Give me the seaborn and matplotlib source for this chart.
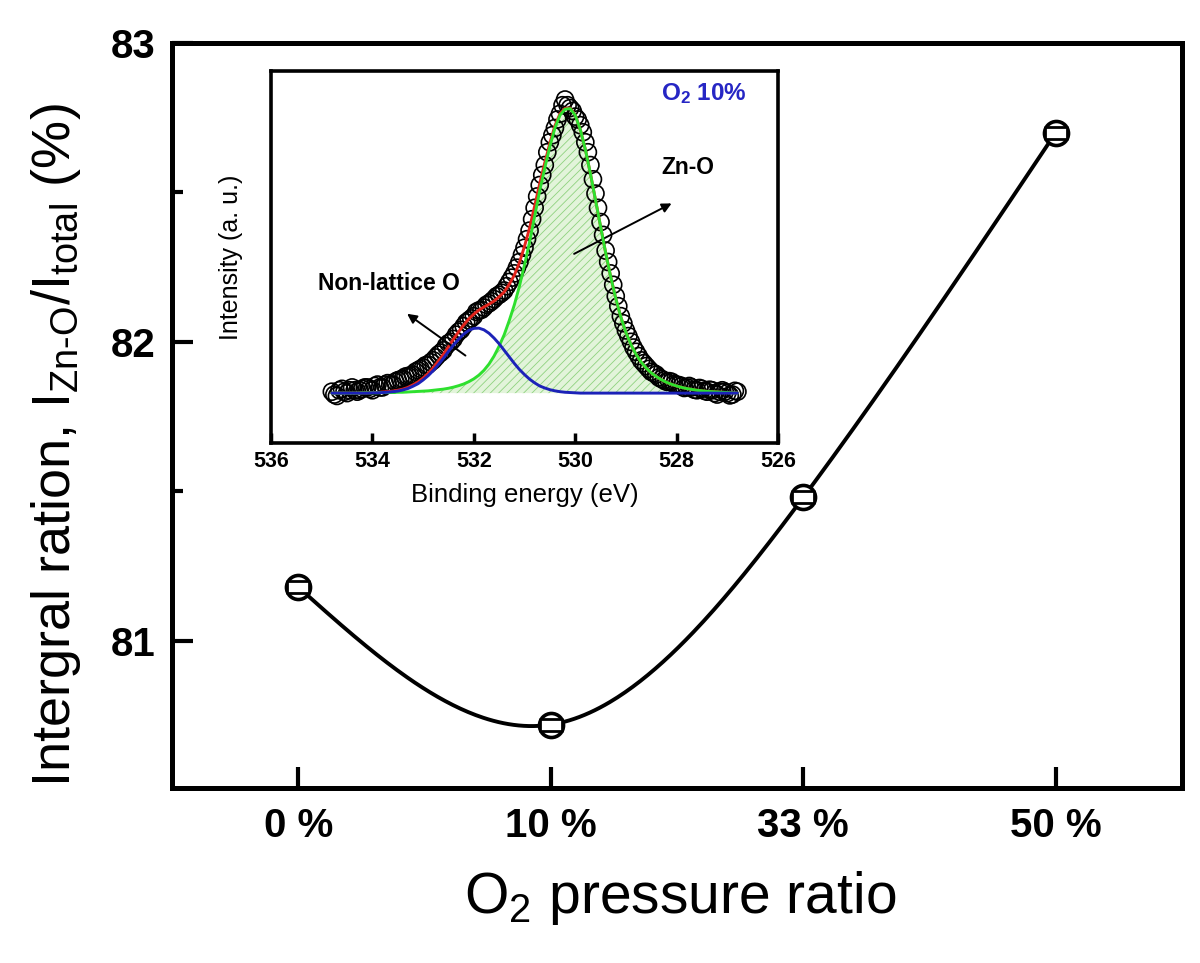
import numpy as np
import pandas as pd
import matplotlib
matplotlib.use("Agg")
import matplotlib.pyplot as plt
from matplotlib.path import Path
import seaborn as sns

# main panel: integral ratio vs O2 pressure ratio
pressure_labels = ["0 %", "10 %", "33 %", "50 %"]
ratio_values = [81.18, 80.72, 81.48, 82.70]

# inset: O 1s spectrum of the O2 10 % film
# measured points, 0.05 eV steps from 534.8 down to 526.8 eV
o1s_measured = [
    0.005, -0.005, -0.010, 0.010, 0.015, 0.005, 0.000, 0.010, 0.020, 0.010,
    0.005, 0.010, 0.015, 0.020, 0.020, 0.015, 0.010, 0.025, 0.030, 0.020,
    0.020, 0.030, 0.035, 0.030, 0.030, 0.040, 0.045, 0.048, 0.050, 0.058,
    0.060, 0.062, 0.065, 0.075, 0.080, 0.085, 0.090, 0.098, 0.100, 0.108,
    0.115, 0.125, 0.135, 0.142, 0.150, 0.165, 0.175, 0.180, 0.190, 0.205,
    0.215, 0.222, 0.235, 0.248, 0.255, 0.262, 0.270, 0.285, 0.290, 0.292,
    0.300, 0.310, 0.315, 0.322, 0.330, 0.340, 0.345, 0.352, 0.360, 0.375,
    0.390, 0.405, 0.420, 0.440, 0.460, 0.485, 0.510, 0.540, 0.570, 0.610,
    0.650, 0.690, 0.730, 0.765, 0.800, 0.845, 0.880, 0.905, 0.930, 0.960,
    0.980, 1.010, 1.030, 1.010, 1.000, 0.990, 0.970, 0.960, 0.940, 0.915,
    0.880, 0.845, 0.800, 0.750, 0.700, 0.650, 0.600, 0.555, 0.500, 0.460,
    0.420, 0.380, 0.340, 0.305, 0.270, 0.245, 0.220, 0.200, 0.180, 0.160,
    0.145, 0.130, 0.115, 0.105, 0.095, 0.085, 0.075, 0.070, 0.065, 0.055,
    0.050, 0.045, 0.040, 0.042, 0.040, 0.032, 0.030, 0.028, 0.025, 0.018,
    0.020, 0.025, 0.020, 0.012, 0.010, 0.018, 0.015, 0.008, 0.005, 0.012,
    0.010, 0.000, -0.005, 0.005, 0.010, 0.005, 0.000, -0.008, -0.005, 0.008,
    0.005,
]
# fitted components, 0.1 eV steps from 534.8 down to 526.8 eV
zn_o_fit = [
    0.000, 0.000, 0.000, 0.000, 0.000, 0.000, 0.001, 0.001, 0.001, 0.001,
    0.002, 0.002, 0.002, 0.003, 0.003, 0.004, 0.005, 0.006, 0.007, 0.008,
    0.010, 0.012, 0.014, 0.017, 0.021, 0.026, 0.032, 0.040, 0.050, 0.063,
    0.080, 0.102, 0.130, 0.165, 0.205, 0.255, 0.310, 0.375, 0.450, 0.530,
    0.620, 0.710, 0.790, 0.865, 0.930, 0.975, 0.996, 0.998, 0.975, 0.925,
    0.855, 0.770, 0.678, 0.585, 0.493, 0.408, 0.332, 0.267, 0.213, 0.170,
    0.136, 0.109, 0.088, 0.071, 0.058, 0.047, 0.038, 0.031, 0.025, 0.020,
    0.016, 0.013, 0.010, 0.008, 0.006, 0.005, 0.004, 0.003, 0.002, 0.001,
    0.000,
]
non_lattice_fit = [
    0.000, 0.000, 0.000, 0.000, 0.000, 0.000, 0.000, 0.000, 0.001, 0.001,
    0.002, 0.003, 0.005, 0.007, 0.011, 0.016, 0.024, 0.033, 0.046, 0.061,
    0.079, 0.100, 0.122, 0.146, 0.169, 0.189, 0.207, 0.220, 0.227, 0.228,
    0.222, 0.210, 0.193, 0.173, 0.150, 0.127, 0.104, 0.083, 0.065, 0.049,
    0.036, 0.025, 0.018, 0.012, 0.008, 0.005, 0.003, 0.002, 0.001, 0.000,
    0.000, 0.000, 0.000, 0.000, 0.000, 0.000, 0.000, 0.000, 0.000, 0.000,
    0.000, 0.000, 0.000, 0.000, 0.000, 0.000, 0.000, 0.000, 0.000, 0.000,
    0.000, 0.000, 0.000, 0.000, 0.000, 0.000, 0.000, 0.000, 0.000, 0.000,
    0.000,
]
energy_ticks = [536, 534, 532, 530, 528, 526]

meas = pd.DataFrame({
    "energy": np.round(np.arange(534.8, 526.775, -0.05), 2),
    "measured": o1s_measured,
})
fit = pd.DataFrame({
    "energy": np.round(np.arange(534.8, 526.75, -0.1), 1),
    "zn_o": zn_o_fit,
    "non_lattice": non_lattice_fit,
})
fit["envelope"] = fit["zn_o"] + fit["non_lattice"]


def natural_spline(x, y, n=300):
    # natural cubic spline, the way the points are joined in the original
    x = np.asarray(x, float)
    y = np.asarray(y, float)
    h = np.diff(x)
    m = len(x)
    A = np.zeros((m, m))
    b = np.zeros(m)
    A[0, 0] = A[-1, -1] = 1
    for i in range(1, m - 1):
        A[i, i - 1] = h[i - 1]
        A[i, i] = 2 * (h[i - 1] + h[i])
        A[i, i + 1] = h[i]
        b[i] = 6 * ((y[i + 1] - y[i]) / h[i] - (y[i] - y[i - 1]) / h[i - 1])
    M = np.linalg.solve(A, b)
    xs = np.linspace(x[0], x[-1], n)
    k = np.clip(np.searchsorted(x, xs) - 1, 0, m - 2)
    t0 = x[k + 1] - xs
    t1 = xs - x[k]
    hk = h[k]
    ys = (M[k] * t0**3 / (6 * hk) + M[k + 1] * t1**3 / (6 * hk)
          + (y[k] / hk - M[k] * hk / 6) * t0 + (y[k + 1] / hk - M[k + 1] * hk / 6) * t1)
    return xs, ys


sns.set_style("ticks")
plt.rcParams["font.family"] = ["Liberation Sans", "DejaVu Sans"]
plt.rcParams["mathtext.fontset"] = "custom"
plt.rcParams["mathtext.rm"] = "Liberation Sans"
plt.rcParams["mathtext.it"] = "Liberation Sans"
plt.rcParams["mathtext.bf"] = "Liberation Sans:bold"
plt.rcParams["mathtext.default"] = "regular"
plt.rcParams["hatch.linewidth"] = 0.6
for key in ["text.color", "axes.labelcolor", "xtick.color", "ytick.color", "axes.edgecolor"]:
    plt.rcParams[key] = "black"

fig = plt.figure(figsize=(12, 9.63), dpi=100)
ax = fig.add_axes([172 / 1200, 1 - 788 / 963, 1010 / 1200, 745 / 963])

pos = np.arange(len(pressure_labels))
xs, ys = natural_spline(pos, ratio_values)
sns.lineplot(x=xs, y=ys, ax=ax, color="black", lw=2.8, zorder=2)
sns.scatterplot(x=pos, y=ratio_values, ax=ax, marker="o", s=300,
                facecolor="white", edgecolor="black", linewidth=2.6, zorder=3)
rect = Path([(-1, -0.55), (1, -0.55), (1, 0.55), (-1, 0.55), (-1, -0.55)],
            [Path.MOVETO, Path.LINETO, Path.LINETO, Path.LINETO, Path.CLOSEPOLY])
sns.scatterplot(x=pos, y=ratio_values, ax=ax, marker=rect, s=260,
                facecolor="white", edgecolor="black", linewidth=2.0, zorder=4)

ax.set_xlim(-0.5, 3.5)
ax.set_ylim(80.508, 83.0)
ax.set_xticks(pos)
ax.set_xticklabels(pressure_labels)
ax.set_yticks([81, 82, 83])
ax.set_yticks([81.5, 82.5], minor=True)
ax.tick_params(axis="both", which="major", direction="in", length=15, width=3,
               labelsize=29, top=False, right=False)
ax.tick_params(axis="y", which="major", pad=12)
ax.tick_params(axis="x", which="major", pad=14)
ax.tick_params(axis="y", which="minor", direction="in", length=8, width=3)
for lab in ax.get_xticklabels() + ax.get_yticklabels():
    lab.set_fontweight("bold")
for sp in ax.spines.values():
    sp.set_linewidth(3.6)
    sp.set_visible(True)
ax.set_xlabel("")
ax.set_ylabel("")

fig.text(56 / 1200, 1 - 445 / 963,
         r"Intergral ration, I$_{\text{Zn-O}}$/I$_{\text{total}}$ (%)",
         rotation=90, ha="center", va="center", fontsize=39)
fig.text(680 / 1200, 1 - 913 / 963, r"O$_2$ pressure ratio",
         ha="center", va="baseline", fontsize=41)

# inset
ins = fig.add_axes([271 / 1200, 1 - 443 / 963, 507 / 1200, 372 / 963])
ins.fill_between(fit["energy"], 0, fit["zn_o"], facecolor="#e2f4da",
                 edgecolor="#8fd27f", hatch="////", linewidth=0, zorder=1)
sns.scatterplot(data=meas, x="energy", y="measured", ax=ins, marker="o", s=150,
                facecolor="none", edgecolor="black", linewidth=1.2, zorder=2)
sns.lineplot(data=fit, x="energy", y="envelope", ax=ins, color="#e3241c", lw=2.1, zorder=3)
sns.lineplot(data=fit, x="energy", y="zn_o", ax=ins, color="#2ee02e", lw=2.1, zorder=4)
sns.lineplot(data=fit, x="energy", y="non_lattice", ax=ins, color="#1c22b8", lw=2.1, zorder=5)

ins.set_xlim(536, 526)
ins.set_ylim(-0.175, 1.13)
ins.set_xticks(energy_ticks)
ins.set_yticks([])
ins.tick_params(axis="x", direction="in", length=7, width=2.5, labelsize=15.5, pad=6,
                top=False)
for lab in ins.get_xticklabels():
    lab.set_fontweight("bold")
for sp in ins.spines.values():
    sp.set_linewidth(2.6)
    sp.set_visible(True)
ins.set_xlabel("Binding energy (eV)", fontsize=18.5, labelpad=8)
ins.set_ylabel("Intensity (a. u.)", fontsize=18, labelpad=20)

ins.annotate("", xy=(533.36, 0.284), xytext=(532.12, 0.126),
             arrowprops=dict(arrowstyle="-|>", color="black", lw=1.4, mutation_scale=14))
ins.annotate("", xy=(528.05, 0.67), xytext=(530.07, 0.484),
             arrowprops=dict(arrowstyle="-|>", color="black", lw=1.4, mutation_scale=14))
ins.text(533.68, 0.386, "Non-lattice O", ha="center", va="center",
         fontsize=16.5, fontweight="bold")
ins.text(527.77, 0.793, "Zn-O", ha="center", va="center",
         fontsize=16.5, fontweight="bold")
ins.text(527.46, 1.05, r"$\mathbf{O_2}$ 10%", ha="center", va="center",
         fontsize=17.5, fontweight="bold", color="#2626c4")

fig.savefig("out.png", dpi=100)
